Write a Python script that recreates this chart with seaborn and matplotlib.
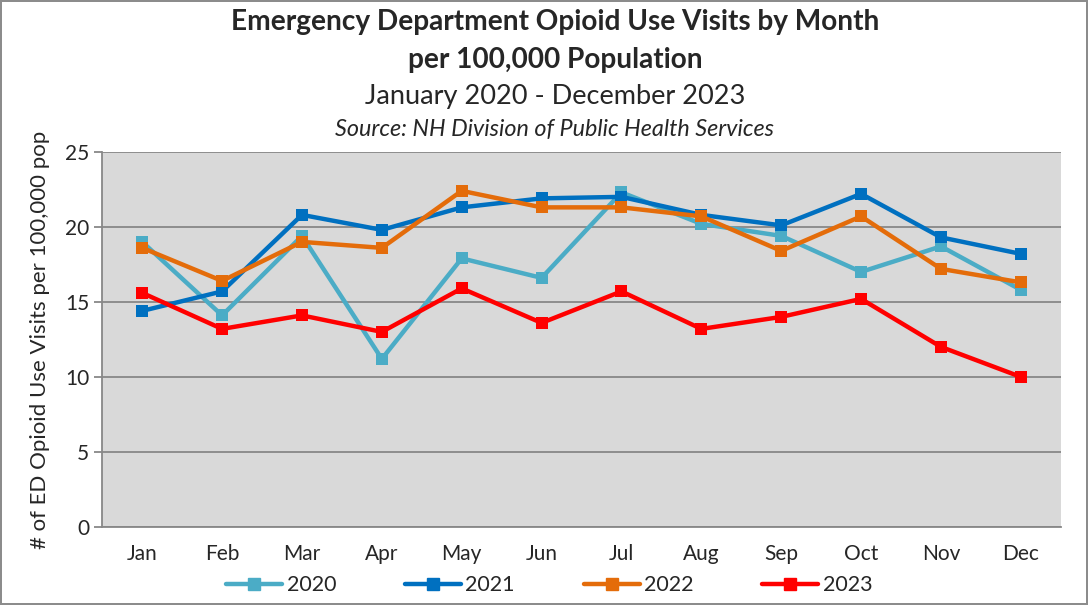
import pandas as pd
import matplotlib.pyplot as plt
import seaborn as sns

# datos
meses = ['Jan', 'Feb', 'Mar', 'Apr', 'May', 'Jun', 'Jul', 'Aug', 'Sep', 'Oct', 'Nov', 'Dec']
anios = ['2020', '2021', '2022', '2023']
v2020 = [19.0, 14.1, 19.4, 11.2, 17.9, 16.6, 22.3, 20.2, 19.4, 17.0, 18.7, 15.8]
v2021 = [14.4, 15.7, 20.8, 19.8, 21.3, 21.9, 22.0, 20.8, 20.1, 22.2, 19.3, 18.2]
v2022 = [18.6, 16.4, 19.0, 18.6, 22.4, 21.3, 21.3, 20.7, 18.4, 20.7, 17.2, 16.3]
v2023 = [15.6, 13.2, 14.1, 13.0, 15.9, 13.6, 15.7, 13.2, 14.0, 15.2, 12.0, 10.0]
colores = ['#4BACC6', '#0070C0', '#E46C0A', '#FF0000']

datos = pd.DataFrame({
    'mes': meses * 4,
    'pos': list(range(12)) * 4,
    'anio': [a for a in anios for _ in meses],
    'valor': v2020 + v2021 + v2022 + v2023,
})

sns.set_style('white')
plt.rcParams['font.family'] = ['Lato', 'DejaVu Sans']

fig = plt.figure(figsize=(10.88, 6.05), dpi=100)
fig.patch.set_edgecolor('#8C8C8C')
fig.patch.set_linewidth(1.5)
ax = fig.add_axes([0.094, 0.129, 0.881, 0.62])
ax.set_facecolor('#D9D9D9')

sns.lineplot(data=datos, x='pos', y='valor', hue='anio', palette=colores,
             marker='s', markersize=8.5, markeredgewidth=0, linewidth=3.2,
             ax=ax, legend=False, zorder=3)

ax.set_xlim(-0.5, 11.5)
ax.set_ylim(0, 25)
ax.set_yticks(range(0, 26, 5))
ax.grid(axis='y', color='#888888', linewidth=1.3)
ax.set_xticks(range(12))
ax.set_xticklabels(meses)
ax.set_xticks([i - 0.5 for i in range(13)], minor=True)
ax.tick_params(axis='x', which='major', length=0, pad=12, labelsize=15)
ax.tick_params(axis='x', which='minor', length=6, color='#888888', width=1.3)
ax.tick_params(axis='y', length=6, color='#888888', width=1.3, labelsize=15, direction='out', left=True)
for lado in ['top', 'right']:
    ax.spines[lado].set_visible(False)
for lado in ['left', 'bottom']:
    ax.spines[lado].set_color('#888888')
    ax.spines[lado].set_linewidth(1.3)
ax.set_xlabel('')
ax.set_ylabel('# of ED Opioid Use Visits per 100,000 pop', fontsize=16, labelpad=11)

# titulos
fig.text(0.51, 0.964, 'Emergency Department Opioid Use Visits by Month', ha='center', va='center',
         fontsize=20.2, fontweight='bold')
fig.text(0.51, 0.901, 'per 100,000 Population', ha='center', va='center',
         fontsize=20.2, fontweight='bold')
fig.text(0.51, 0.841, 'January 2020 - December 2023', ha='center', va='center', fontsize=19.5)
fig.text(0.51, 0.786, 'Source: NH Division of Public Health Services', ha='center', va='center',
         fontsize=16.8, style='italic')

# leyenda
manijas = [plt.Line2D([], [], color=c, linewidth=3.2, marker='s', markersize=8) for c in colores]
fig.legend(manijas, anios, loc='center', bbox_to_anchor=(0.505, 0.033), ncol=4, frameon=False,
           fontsize=15.5, handlelength=2.6, columnspacing=3.2, handletextpad=0.2)

fig.savefig('out.png', dpi=100)
